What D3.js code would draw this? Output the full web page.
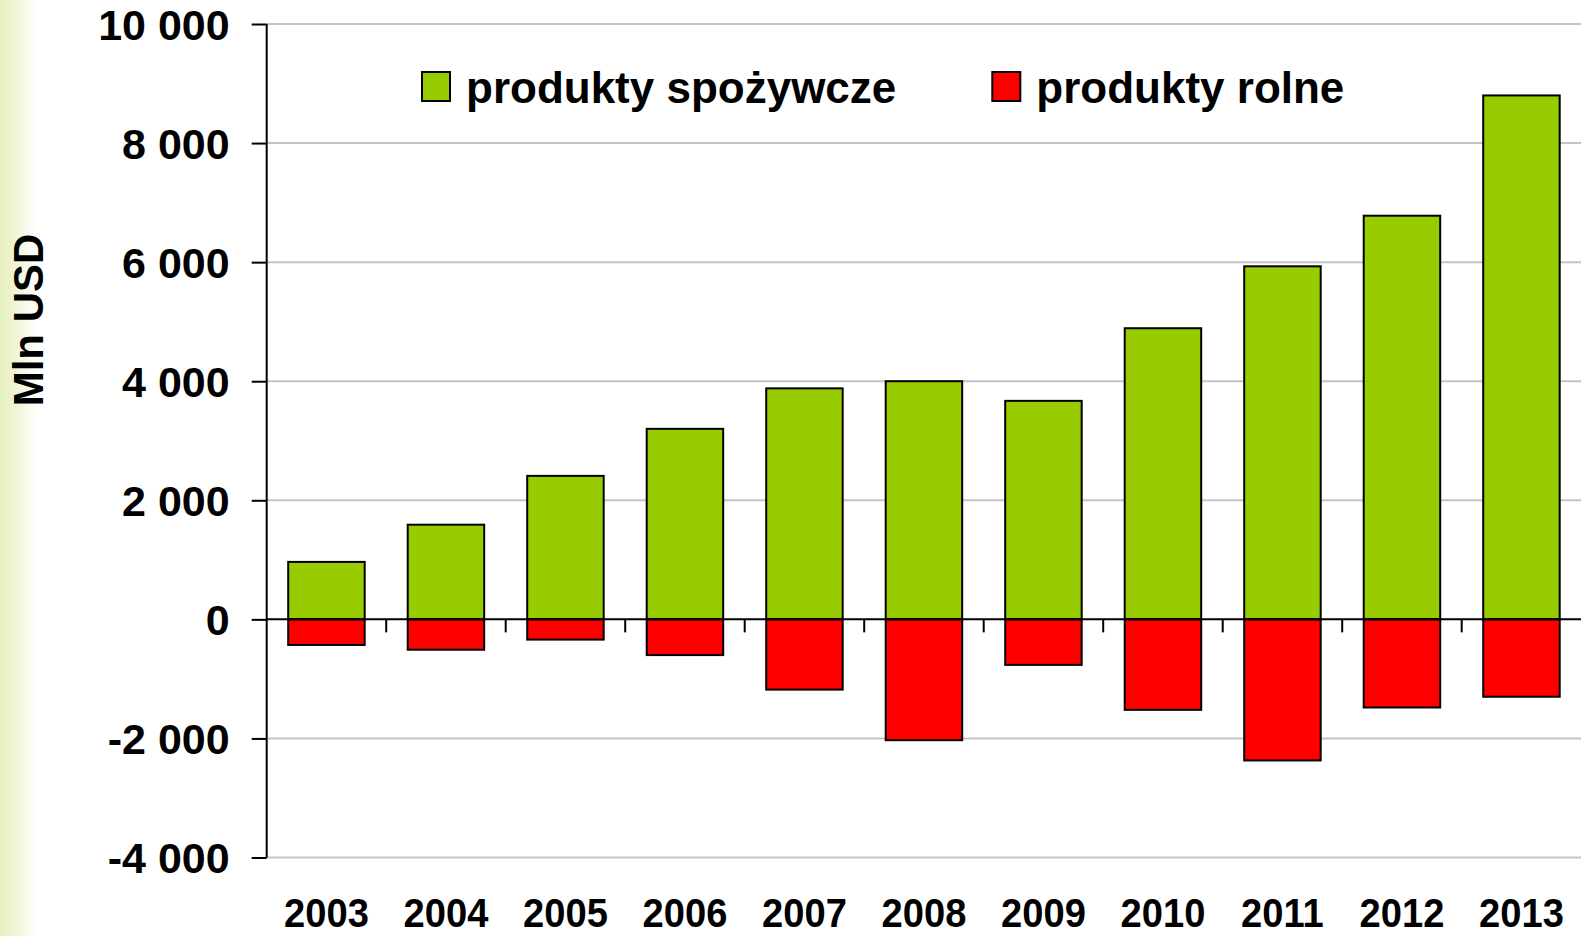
<!DOCTYPE html>
<html>
<head>
<meta charset="utf-8">
<script src="https://cdn.jsdelivr.net/npm/d3@7"></script>
<style>
body { margin: 0; background: #fff; overflow: hidden; }
text { font-family: "Liberation Sans", Arial, sans-serif; font-weight: bold; fill: #000; }
</style>
</head>
<body>
<div id="container"></div>
<script>
// Data (Mln USD)
var years = ['2003', '2004', '2005', '2006', '2007', '2008', '2009', '2010', '2011', '2012', '2013'];
var spozywcze = [965, 1590, 2410, 3200, 3880, 4000, 3670, 4890, 5930, 6780, 8800];
var rolne = [-430, -510, -340, -600, -1180, -2030, -765, -1520, -2370, -1480, -1300];
var seriesNames = ['produkty spożywcze', 'produkty rolne'];
var seriesColours = ['#99cc00', '#ff0000'];
var yTicks = [-4000, -2000, 0, 2000, 4000, 6000, 8000, 10000];
var yLabel = 'Mln USD';

// Plot constants
var width = 1581,
height = 936,
plotLeft = 266.7,
plotRight = 1581.2,
plotTop = 24,
plotBottom = 857.5;

var svg = d3.select('#container').append('svg').attr('width', width).attr('height', height);

// pale green strip on the left edge
var defs = svg.append('defs');
var grad = defs.append('linearGradient').attr('id', 'edge').attr('x1', 0).attr('x2', 1).attr('y1', 0).attr('y2', 0);
grad.append('stop').attr('offset', 0).attr('stop-color', '#e6efbd');
grad.append('stop').attr('offset', 0.35).attr('stop-color', '#eef4d2');
grad.append('stop').attr('offset', 1).attr('stop-color', '#ffffff');
svg.append('rect').attr('x', 0).attr('y', 0).attr('width', 38).attr('height', height).attr('fill', 'url(#edge)');

var x = d3.scaleBand().domain(years).range([plotLeft, plotRight]).paddingInner(0.36).paddingOuter(0.18);
var y = d3.scaleLinear().domain([-4000, 10000]).range([plotBottom, plotTop]);

var locale = d3.formatLocale({ decimal: ',', thousands: ' ', grouping: [3], currency: ['', ''], minus: '-' });
var fmt = locale.format(',');

// gridlines
svg.append('g').
selectAll('line').
data(yTicks.filter(function (t) { return t !== 0; })).
enter().
append('line').
attr('x1', plotLeft).
attr('x2', width).
attr('y1', function (d) { return y(d); }).
attr('y2', function (d) { return y(d); }).
attr('stroke', '#c4c4c4').
attr('stroke-width', 2);

// bars
var series = [spozywcze, rolne];
series.forEach(function (values, s) {
  svg.append('g').
  selectAll('rect').
  data(values).
  enter().
  append('rect').
  attr('x', function (d, i) { return x(years[i]); }).
  attr('width', x.bandwidth()).
  attr('y', function (d) { return y(Math.max(0, d)); }).
  attr('height', function (d) { return Math.abs(y(d) - y(0)); }).
  attr('fill', seriesColours[s]).
  attr('stroke', '#000').
  attr('stroke-width', 2);
});

// zero line
svg.append('line').
attr('x1', plotLeft).
attr('x2', width).
attr('y1', y(0)).
attr('y2', y(0)).
attr('stroke', '#000').
attr('stroke-width', 2);

// category tick marks below the zero line
var half = x.step() * x.paddingInner() / 2;
svg.append('g').
selectAll('line').
data(years.slice(1)).
enter().
append('line').
attr('x1', function (d) { return x(d) - half; }).
attr('x2', function (d) { return x(d) - half; }).
attr('y1', y(0)).
attr('y2', y(0) + 13).
attr('stroke', '#000').
attr('stroke-width', 2);

// y axis
var yAxis = d3.axisLeft(y).tickValues(yTicks).tickFormat(fmt).tickSize(15).tickPadding(22);
svg.append('g').
attr('transform', 'translate(' + plotLeft + ',0)').
call(yAxis).
call(function (g) {
  g.select('.domain').attr('stroke', '#000').attr('stroke-width', 2).attr('d', 'M0,' + plotTop + 'V' + plotBottom);
  g.selectAll('.tick line').attr('stroke', '#000').attr('stroke-width', 2);
  g.selectAll('.tick text').style('font-size', '43px').attr('dy', '0.36em').attr('fill', '#000');
});

// year labels
svg.append('g').
selectAll('text').
data(years).
enter().
append('text').
attr('text-anchor', 'middle').
attr('transform', function (d) { return 'translate(' + (x(d) + x.bandwidth() / 2) + ',927) scale(0.93,1)'; }).
style('font-size', '41px').
text(function (d) { return d; });

// y axis title
svg.append('text').
attr('transform', 'translate(43,320) rotate(-90)').
attr('text-anchor', 'middle').
style('font-size', '42px').
text(yLabel);

// legend
var legend = svg.append('g');
var lx = 422;
seriesNames.forEach(function (name, i) {
  var item = legend.append('g');
  item.append('rect').
  attr('x', lx).
  attr('y', 72).
  attr('width', 28).
  attr('height', 29).
  attr('fill', seriesColours[i]).
  attr('stroke', '#000').
  attr('stroke-width', 2);
  var t = item.append('text').
  attr('x', lx + 44).
  attr('y', 103).
  style('font-size', '44px').
  text(name);
  lx = lx + 44 + t.node().getComputedTextLength() + 96;
});
</script>
</body>
</html>
